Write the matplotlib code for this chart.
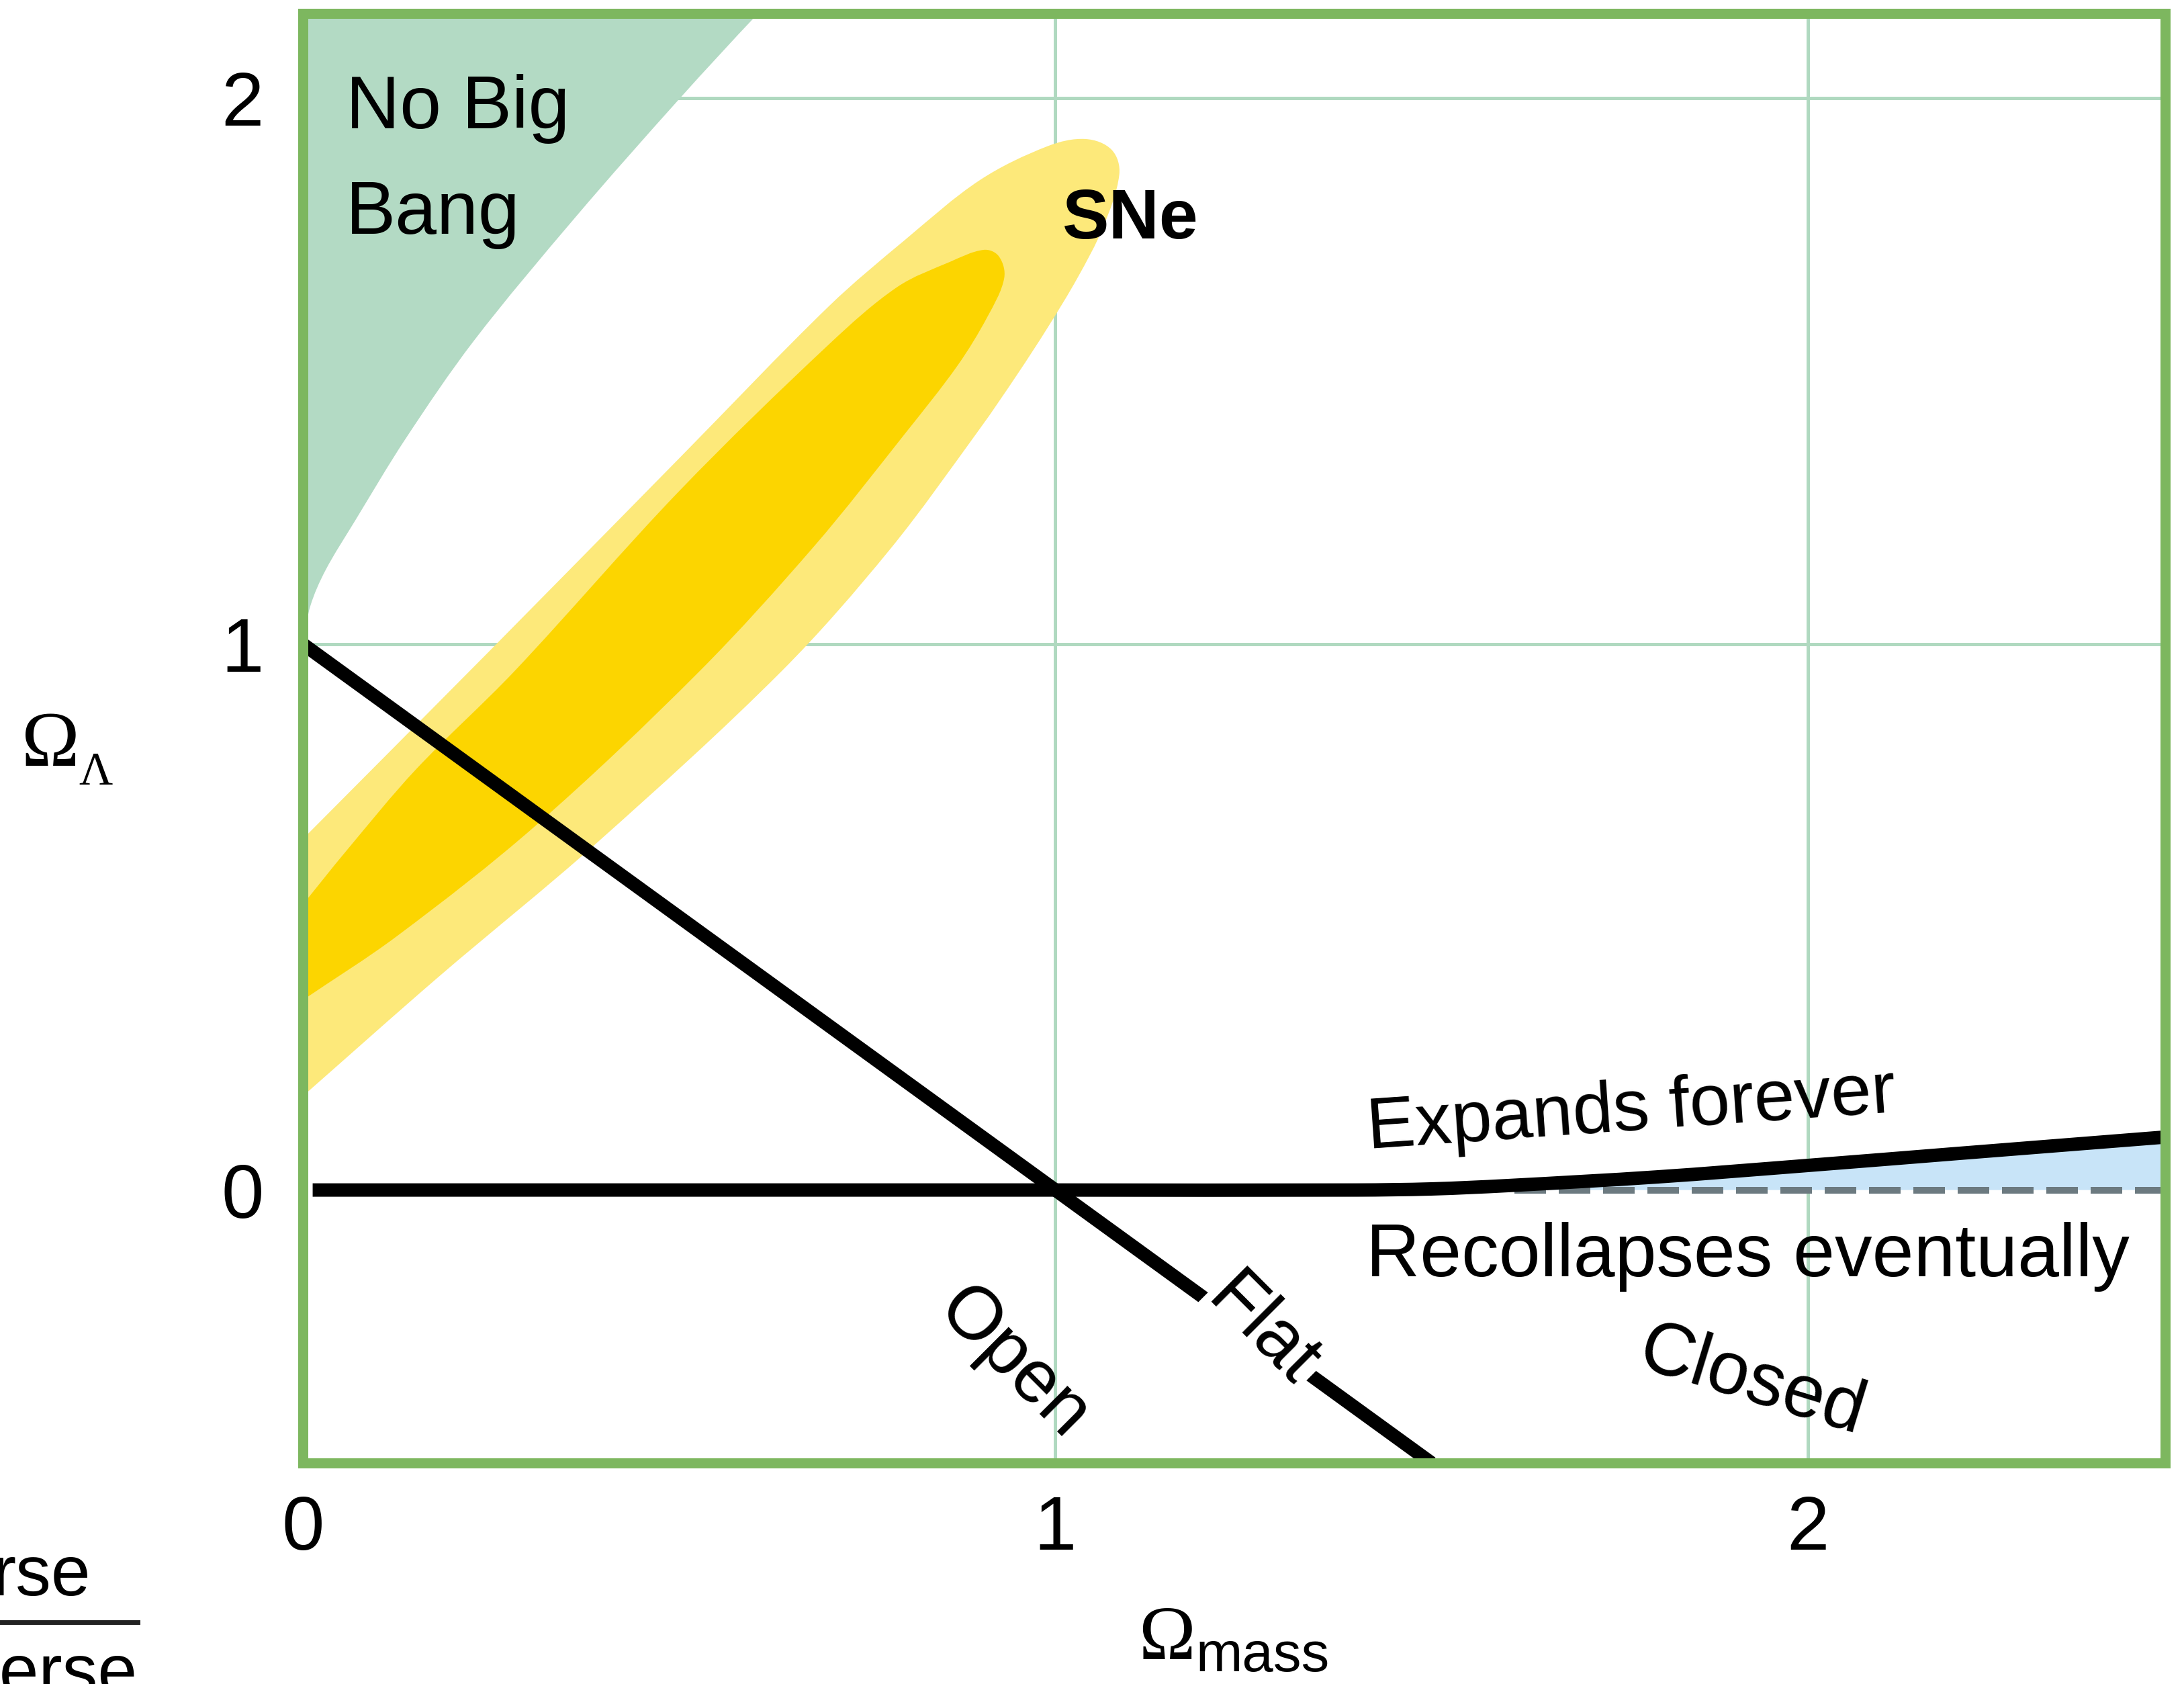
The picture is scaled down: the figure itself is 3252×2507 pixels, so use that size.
import matplotlib
matplotlib.use("Agg")
import numpy as np
import matplotlib.pyplot as plt
from matplotlib.lines import Line2D
from matplotlib.path import Path
from matplotlib.patches import PathPatch

plt.rcParams['font.family'] = ['Liberation Sans', 'DejaVu Sans']

# ---------------- data ----------------
tick_values = [0, 1, 2]
tick_labels = ["0", "1", "2"]

# "No Big Bang" boundary (Omega_mass, Omega_Lambda)
nbb_m = [0.0, 0.01, 0.03, 0.069, 0.136, 0.227, 0.363, 0.500, 0.605, 0.625]
nbb_l = [1.0, 1.07, 1.135, 1.225, 1.375, 1.555, 1.783, 1.998, 2.155, 2.18]

# SNe confidence contours (outer = light, inner = dark)
sne_outer_m = [0.0, 0.18, 0.39, 0.636, 0.78, 0.90, 0.95, 0.99, 1.03, 1.063, 1.085,
               1.075, 1.04, 0.99, 0.90, 0.80, 0.70, 0.50, 0.25, 0.0]
sne_outer_l = [0.172, 0.39, 0.635, 0.95, 1.173, 1.395, 1.495, 1.58, 1.672, 1.762, 1.86,
               1.905, 1.925, 1.912, 1.85, 1.74, 1.62, 1.34, 0.99, 0.643]
sne_inner_m = [0.0, 0.125, 0.309, 0.527, 0.68, 0.80, 0.87, 0.91, 0.932,
               0.925, 0.905, 0.86, 0.79, 0.70, 0.50, 0.281, 0.15, 0.057, 0.0]
sne_inner_l = [0.348, 0.465, 0.667, 0.95, 1.18, 1.385, 1.51, 1.60, 1.67,
               1.71, 1.722, 1.70, 1.654, 1.55, 1.28, 0.95, 0.77, 0.62, 0.523]

# Flat universe line
flat_m = [0.0, 1.5]
flat_l = [1.0, -0.5]

# Expands forever / recollapses boundary
expand_m = [0.013, 1.0, 1.40, 1.50, 1.60, 1.80, 2.00, 2.20, 2.475]
expand_l = [0.0, 0.0, 0.0, 0.002, 0.008, 0.024, 0.045, 0.067, 0.097]

# dashed Omega_Lambda = 0 reference under the blue wedge
dash_m = [1.61, 2.475]
dash_l = [0.0, 0.0]

# ---------------- colours ----------------
spine_c = '#7db75f'
grid_c = '#b0d9c0'
nbb_c = '#b3dac4'
outer_c = '#fde97a'
inner_c = '#fcd500'
blue_c = '#c8e4f8'
dash_c = '#6c7a80'

# ---------------- smooth path helper (Bezier through the read points) -------
SX, SY = 1120.0, 813.0   # approximate pixels per data unit, for isotropic smoothing


def smooth_path(xs, ys, close=False, extra=None):
    P = np.column_stack([np.asarray(xs, float) * SX, np.asarray(ys, float) * SY])
    n = len(P)
    U = np.zeros_like(P)
    for i in range(n):
        d = P[min(i + 1, n - 1)] - P[max(i - 1, 0)]
        U[i] = d / np.hypot(*d)
    verts = [P[0]]
    codes = [Path.MOVETO]
    for i in range(n - 1):
        d = np.hypot(*(P[i + 1] - P[i]))
        verts += [P[i] + U[i] * d / 3, P[i + 1] - U[i + 1] * d / 3, P[i + 1]]
        codes += [Path.CURVE4] * 3
    V = np.array(verts)
    V[:, 0] /= SX
    V[:, 1] /= SY
    V = list(map(tuple, V))
    if extra:
        for pt in extra:
            V.append(pt)
            codes.append(Path.LINETO)
    if close:
        V.append(V[0])
        codes.append(Path.CLOSEPOLY)
    return Path(V, codes)


W, H, DPI = 3252, 2507, 200
fig = plt.figure(figsize=(W / DPI, H / DPI), dpi=DPI)
ax = fig.add_axes([451 / W, 1 - 2178 / H, (3224 - 451) / W, (2178 - 20) / H])
ax.set_xlim(0, 2.475)
ax.set_ylim(-0.5, 2.155)

ax.set_xticks(tick_values, tick_labels)
ax.set_yticks(tick_values, tick_labels)
ax.tick_params(axis='both', length=0, labelsize=41)
ax.tick_params(axis='x', pad=17)
ax.tick_params(axis='y', pad=21)
ax.grid(True, color=grid_c, lw=1.8)
ax.set_axisbelow(True)
for t in ax.xaxis.get_major_ticks() + ax.yaxis.get_major_ticks():
    if t.get_loc() == 0:
        t.gridline.set_visible(False)
for sp in ax.spines.values():
    sp.set_color(spine_c)
    sp.set_linewidth(5.4)
    sp.set_zorder(10)

# regions
top = ax.get_ylim()[1] + 0.2
ax.add_patch(PathPatch(smooth_path(nbb_m, nbb_l, close=True,
                                   extra=[(nbb_m[-1], top), (nbb_m[0] - 0.1, top),
                                          (nbb_m[0] - 0.1, nbb_l[0])]),
                       fc=nbb_c, ec='none', zorder=1))
ax.add_patch(PathPatch(smooth_path(sne_outer_m, sne_outer_l, close=True),
                       fc=outer_c, ec='none', zorder=2))
ax.add_patch(PathPatch(smooth_path(sne_inner_m, sne_inner_l, close=True),
                       fc=inner_c, ec='none', zorder=3))
ax.add_patch(PathPatch(smooth_path(expand_m, expand_l, close=True,
                                   extra=[(expand_m[-1], 0.0)]),
                       fc=blue_c, ec='none', zorder=2))
ax.plot(dash_m, dash_l, color=dash_c, lw=3.6, dashes=(4.7, 1.9), zorder=3)

# lines
ax.plot(flat_m, flat_l, color='black', lw=7.2, solid_capstyle='butt', zorder=5)
ax.add_patch(PathPatch(smooth_path(expand_m, expand_l), fill=False, ec='black',
                       lw=7.2, capstyle='butt', joinstyle='round', zorder=5))

# labels inside the plot
fs = 40
ax.text(0.057, 1.945, 'No Big', fontsize=fs, ha='left', va='baseline', zorder=6)
ax.text(0.057, 1.752, 'Bang', fontsize=fs, ha='left', va='baseline', zorder=6)
ax.text(1.009, 1.743, 'SNe', fontsize=37.5, fontweight='bold', ha='left', va='baseline', zorder=6)
ax.text(1.416, 0.076, 'Expands forever', fontsize=39, rotation=4, rotation_mode='anchor',
        ha='left', va='baseline', zorder=6)
ax.text(1.413, -0.158, 'Recollapses eventually', fontsize=fs, ha='left', va='baseline', zorder=6)
ax.text(1.926, -0.352, 'Closed', fontsize=fs, rotation=-17, rotation_mode='anchor',
        ha='center', va='center', zorder=6)
ax.text(0.944, -0.319, 'Open', fontsize=fs, rotation=-45, rotation_mode='anchor',
        ha='center', va='center', zorder=6)
ax.text(1.275, -0.259, 'Flat', fontsize=fs, rotation=-45, rotation_mode='anchor',
        ha='center', va='center', zorder=6,
        bbox=dict(boxstyle='square,pad=0.05', fc='white', ec='none'))

# axis labels
serif = ['Liberation Serif', 'DejaVu Serif']
fig.text(32 / W, 1 - 1140 / H, 'Ω', fontsize=42, family=serif, ha='left', va='baseline')
fig.text(117 / W, 1 - 1168 / H, 'Λ', fontsize=25, family=serif, ha='left', va='baseline')
fig.text(1695 / W, 1 - 2470 / H, 'Ω', fontsize=41, family=serif, ha='left', va='baseline')
fig.text(1780 / W, 1 - 2488 / H, 'mass', fontsize=30, ha='left', va='baseline')

# fragments of the neighbouring figure at the bottom-left edge
fig.text(135 / W, 1 - 2375 / H, 'rse', fontsize=38, ha='right', va='baseline')
fig.add_artist(Line2D([0, 205 / W], [1 - 2415 / H, 1 - 2415 / H], color='#222222', lw=2.5))
fig.text(205 / W, 1 - 2522 / H, 'verse', fontsize=38, ha='right', va='baseline')

fig.savefig('out.png', dpi=DPI)
